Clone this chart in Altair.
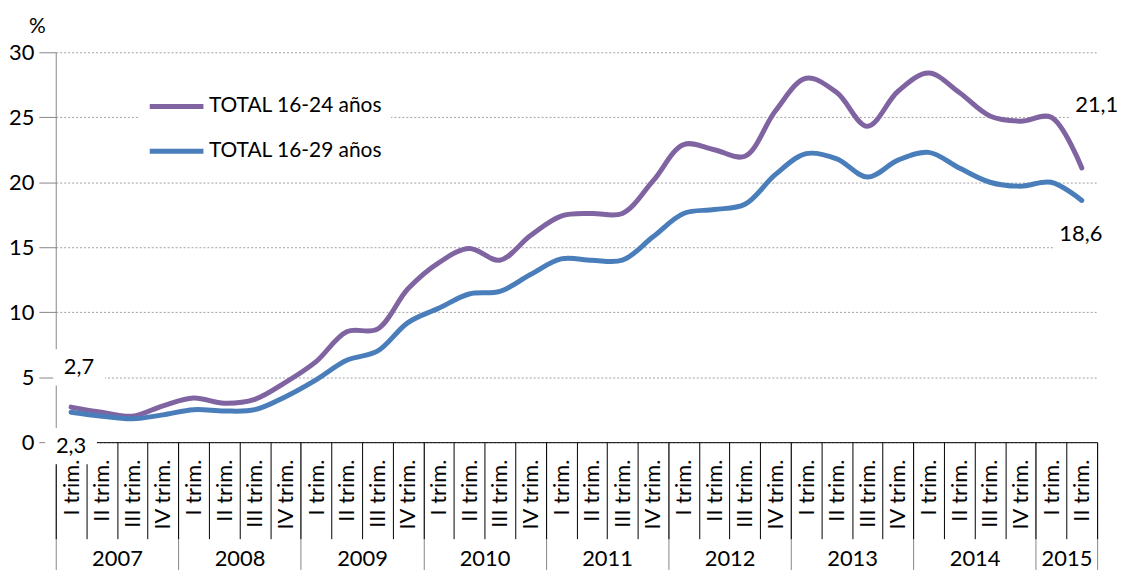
import json
import altair as alt
import pandas as pd

# ---------------- data ----------------
years = ["2007", "2008", "2009", "2010", "2011", "2012", "2013", "2014", "2015"]
quarters = ["I trim.", "II trim.", "III trim.", "IV trim."]
serie_names = ["TOTAL 16-24 años", "TOTAL 16-29 años"]
values_16_24 = [2.7, 2.3, 2.0, 2.8, 3.4, 3.0, 3.3, 4.6, 6.2, 8.5, 8.7,
                11.8, 13.8, 14.9, 14.0, 15.9, 17.4, 17.6, 17.6, 20.1, 22.9,
                22.5, 22.0, 25.5, 28.0, 26.9, 24.3, 27.0, 28.4, 26.9, 25.1,
                24.7, 25.0, 21.1]
values_16_29 = [2.3, 2.0, 1.8, 2.1, 2.5, 2.4, 2.5, 3.5, 4.8, 6.3, 7.0,
                9.2, 10.3, 11.4, 11.6, 12.9, 14.1, 14.0, 14.0, 15.8, 17.6,
                17.9, 18.3, 20.6, 22.2, 21.8, 20.4, 21.7, 22.3, 21.1, 20.0,
                19.7, 20.0, 18.6]
colors = ["#8064A2", "#4A7EBB"]

n = len(values_16_24)
rows = []
for s, vals in zip(serie_names, [values_16_24, values_16_29]):
    for i, v in enumerate(vals):
        rows.append({"pos": i + 0.5, "serie": s, "valor": v,
                     "txt": f"{v:.1f}".replace(".", ",")})
df = pd.DataFrame(rows)

boundaries = [4 * k for k in range(len(years))] + [n]
year_centers = [(4 * k + min(4 * k + 4, n)) / 2 for k in range(len(years))]
quarter_centers = [i + 0.5 for i in range(n)]

FONT = "Lato"
FS = 22
Y_SCALE = alt.Scale(domain=[0, 30], nice=False)

axis_y = alt.Axis(values=list(range(0, 31, 5)), titleAngle=0, titleX=-19, titleY=-26,
                  titleAlign="center", titleBaseline="middle", titleFontSize=21,
                  titleFontWeight="normal", titleColor="black",
                  labelFontSize=FS, labelColor="black", labelPadding=5,
                  tickSize=17, tickColor="#868686", domainColor="#868686",
                  grid=True, gridColor="#A0A0A0", gridDash=[2, 2], gridWidth=1)


def xenc(axis=None):
    return alt.X("pos:Q", scale=alt.Scale(domain=[0, n], nice=False, zero=False),
                 axis=axis, title=None)


def yenc():
    return alt.Y("valor:Q", scale=Y_SCALE, axis=axis_y, title="%")


axis_year_sep = alt.Axis(values=boundaries, labels=False, tickSize=128,
                         tickColor="#868686", domain=False, grid=False, orient="bottom")
axis_q_sep = alt.Axis(values=list(range(n + 1)), labels=False, tickSize=97,
                      tickColor="black", domain=True, domainColor="black",
                      grid=False, orient="bottom")
axis_q_lab = alt.Axis(values=quarter_centers,
                      labelExpr=f"{json.dumps(quarters)}[floor(datum.value) % 4]",
                      labelAngle=270, labelFontSize=FS, labelColor="black",
                      labelPadding=17, ticks=False, domain=False, grid=False,
                      orient="bottom", labelOverlap=False, labelFlush=False, zindex=1)
axis_yr_lab = alt.Axis(values=year_centers,
                       labelExpr=f"{json.dumps(years)}[floor(datum.value / 4)]",
                       labelAngle=0, labelFontSize=FS, labelColor="black",
                       labelPadding=107, ticks=False, domain=False, grid=False,
                       orient="bottom", labelOverlap=False, labelFlush=False)

# data labels: (serie, index, dx, dy)
label_specs = [(0, 0, 8, -40), (1, 0, 0, 34), (0, n - 1, 15, -63), (1, n - 1, -1, 34)]
extra_axes = [axis_q_lab, axis_yr_lab, None, None]

box_layers = []
text_layers = []
for k, (si, idx, dx, dy) in enumerate(label_specs):
    sub = df[(df["serie"] == serie_names[si]) & (df["pos"] == idx + 0.5)]
    box = alt.Chart(sub).mark_point(
        shape="M-1,-0.7H1V0.7H-1Z", filled=True, fill="white", strokeWidth=0,
        opacity=1, size=2704, xOffset=dx, yOffset=dy
    ).encode(x=xenc(axis_year_sep if k == 0 else None), y=yenc())
    box_layers.append(box)
    txt = alt.Chart(sub).mark_text(
        align="center", baseline="middle", dx=dx, dy=dy, fontSize=FS,
        font=FONT, color="black"
    ).encode(x=xenc(extra_axes[k]), y=yenc(), text="txt:N")
    text_layers.append(txt)

lines = alt.Chart(df).mark_line(
    interpolate="catmull-rom", strokeWidth=5, strokeCap="round"
).encode(
    x=xenc(axis_q_sep),
    y=yenc(),
    color=alt.Color("serie:N",
                    scale=alt.Scale(domain=serie_names, range=colors),
                    legend=alt.Legend(orient="none", legendX=84, legendY=24, title=None,
                                      symbolType="stroke", symbolSize=2916,
                                      symbolStrokeWidth=5, labelFontSize=21,
                                      labelFont=FONT, labelColor="black",
                                      fillColor="white", padding=8, clipHeight=45,
                                      rowPadding=0, labelOffset=3, labelLimit=400,
                                      zindex=1)),
)

chart = alt.layer(*box_layers, lines, *text_layers).resolve_scale(
    x="independent"
).properties(
    width=1047, height=392,
    padding={"left": 48, "top": 43, "right": 22, "bottom": 128},
    autosize=alt.AutoSizeParams(type="none"),
).configure_view(stroke=None).configure_axis(
    labelFont=FONT, titleFont=FONT
).configure_legend(labelFont=FONT)

chart.save("out.html", embed_options={"renderer": "svg", "actions": False})
